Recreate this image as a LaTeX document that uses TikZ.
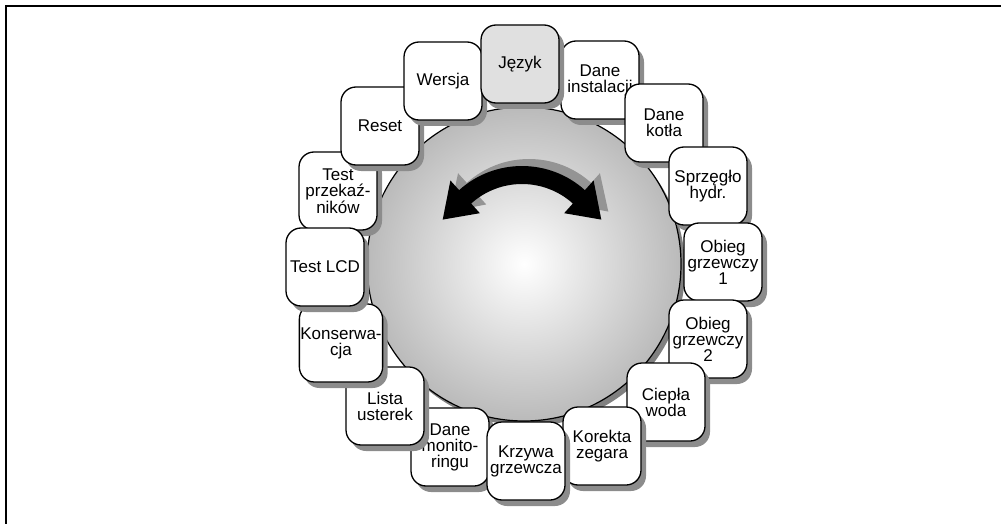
\documentclass[tikz,border=0pt]{standalone}
\usepackage{fontspec}
\setmainfont{Liberation Sans}
\usetikzlibrary{shadows}
\begin{document}
\begin{tikzpicture}[x=1pt,y=-1pt,
  menubox/.style={draw=black, line width=1.3pt, rounded corners=15pt, fill=white,
    minimum width=78pt, minimum height=78pt, inner sep=1pt,
    align=center, font=\fontsize{17}{16}\selectfont,
    drop shadow={shadow xshift=5pt, shadow yshift=-6pt, fill=black!45, opacity=1}},
  activebox/.style={menubox, fill=black!12},
  frameline/.style={line width=1.8pt, black}]
\useasboundingbox (0,0) rectangle (1001,524);
\draw[frameline] (6,524) -- (6,6) -- (1001,6);
% dial
\fill[black!50] (528,269) circle[radius=157];
\shade[inner color=white, outer color=black!27, draw=black, line width=1.2pt] (524,264) circle[radius=157];
% double arrow shadow
\begin{scope}[shift={(529,252)}]
\fill[black!42] (-132:106) -- (-153:89) -- (-132:64) -- (-132:77)
  arc[start angle=-132, end angle=-48, radius=77] -- (-48:64) -- (-27:89) -- (-48:106)
  -- (-48:93) arc[start angle=-48, end angle=-132, radius=93] -- cycle;
\end{scope}
\begin{scope}[shift={(522,260)}]
\fill[black] (-132:107) -- (-153:89) -- (-132:63) -- (-132:76)
  arc[start angle=-132, end angle=-48, radius=76] -- (-48:63) -- (-27:89) -- (-48:107)
  -- (-48:94) arc[start angle=-48, end angle=-132, radius=94] -- cycle;
\end{scope}
% menu items
\node[menubox] (monit) at (450,447) {Dane\\monito-\\ringu};
\node[menubox] (lista) at (385,406) {Lista\\usterek};
\node[menubox] (kons) at (341,343) {Konserwa-\\cja};
\node[menubox] (tprz) at (338,191) {Test\\przekaź-\\ników};
\node[menubox] (tlcd) at (325,267) {Test LCD};
\node[menubox] (reset) at (380,126) {Reset};
\node[menubox] (wersja) at (443,81) {Wersja};
\node[menubox] (inst) at (600,80) {Dane\\instalacji};
\node[menubox] (kotla) at (664,123) {Dane\\kotła};
\node[menubox] (sprz) at (708,186) {Sprzęgło\\hydr.};
\node[menubox] (ob1) at (723,262) {Obieg\\grzewczy\\1};
\node[menubox] (ob2) at (708,339) {Obieg\\grzewczy\\2};
\node[menubox] (ciepla) at (666,402) {Ciepła\\woda};
\node[menubox] (korekta) at (602,446) {Korekta\\zegara};
\node[menubox] (krzywa) at (526,461) {Krzywa\\grzewcza};
\node[activebox] (jezyk) at (520,64) {Język};
\end{tikzpicture}
\end{document}
